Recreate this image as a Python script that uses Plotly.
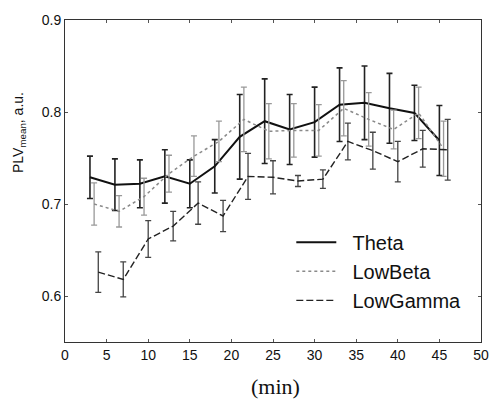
import plotly.graph_objects as go

# Data
theta_x = [3, 6, 9, 12, 15, 18, 21, 24, 27, 30, 33, 36, 39, 42, 45]
theta_y = [0.729, 0.721, 0.722, 0.730, 0.722, 0.741, 0.773, 0.790, 0.781, 0.789, 0.808, 0.810, 0.804, 0.799, 0.769]
theta_e = [0.023, 0.028, 0.026, 0.029, 0.026, 0.029, 0.046, 0.046, 0.038, 0.038, 0.040, 0.040, 0.038, 0.030, 0.038]

lowbeta_x = [3.5, 6.5, 9.5, 12.5, 15.5, 18.5, 21.5, 24.5, 27.5, 30.5, 33.5, 36.5, 39.5, 42.5, 45.5]
lowbeta_y = [0.700, 0.692, 0.708, 0.733, 0.752, 0.768, 0.792, 0.779, 0.780, 0.780, 0.804, 0.792, 0.781, 0.799, 0.760]
lowbeta_e = [0.023, 0.017, 0.020, 0.020, 0.022, 0.022, 0.035, 0.030, 0.029, 0.028, 0.030, 0.029, 0.021, 0.028, 0.030]

lowgamma_x = [4, 7, 10, 13, 16, 19, 22, 25, 28, 31, 34, 37, 40, 43, 46]
lowgamma_y = [0.626, 0.618, 0.662, 0.676, 0.701, 0.687, 0.730, 0.729, 0.725, 0.727, 0.768, 0.758, 0.746, 0.760, 0.759]
lowgamma_e = [0.022, 0.019, 0.020, 0.016, 0.023, 0.017, 0.025, 0.018, 0.006, 0.010, 0.020, 0.020, 0.022, 0.020, 0.033]

series_names = ["Theta", "LowBeta", "LowGamma"]
x_ticks = [0, 5, 10, 15, 20, 25, 30, 35, 40, 45, 50]
y_ticks = [0.6, 0.7, 0.8, 0.9]

pad = "\u00a0\u00a0"

fig = go.Figure()
fig.add_trace(go.Scatter(
    x=theta_x, y=theta_y, mode="lines", name=pad + series_names[0],
    line=dict(color="#111", width=2),
    error_y=dict(type="data", array=theta_e, color="#222", thickness=1.6, width=3),
))
fig.add_trace(go.Scatter(
    x=lowbeta_x, y=lowbeta_y, mode="lines", name=pad + series_names[1],
    line=dict(color="#8a8a8a", width=1.5, dash="dot"),
    error_y=dict(type="data", array=lowbeta_e, color="#999", thickness=1.3, width=3),
))
fig.add_trace(go.Scatter(
    x=lowgamma_x, y=lowgamma_y, mode="lines", name=pad + series_names[2],
    line=dict(color="#222", width=1.4, dash="7px,3px"),
    error_y=dict(type="data", array=lowgamma_e, color="#444", thickness=1.3, width=3),
))

axis_common = dict(
    showgrid=False, zeroline=False, showline=True, linecolor="#333", linewidth=1,
    mirror="ticks", ticks="inside", ticklen=3, tickcolor="#555",
    tickfont=dict(family="Liberation Sans, Arial, sans-serif", size=14, color="#111"),
)
fig.update_xaxes(range=[0, 50], tickvals=x_ticks, **axis_common)
fig.update_yaxes(range=[0.55, 0.9], tickvals=y_ticks, tickformat=".1f", **axis_common)

fig.update_layout(
    width=501, height=400,
    margin=dict(l=65, r=17, t=12, b=58),
    paper_bgcolor="white", plot_bgcolor="white",
    showlegend=True,
    legend=dict(
        x=0.544, y=0.37, xanchor="left", yanchor="top",
        bgcolor="rgba(0,0,0,0)", borderwidth=0,
        font=dict(family="Liberation Sans, Arial, sans-serif", size=20, color="#111"),
        itemwidth=40, tracegroupgap=0,
    ),
    annotations=[
        dict(text="(min)", xref="paper", yref="paper", x=0.505, y=-0.137,
             xanchor="center", yanchor="middle", showarrow=False,
             font=dict(family="Liberation Serif, Times New Roman, serif", size=22, color="#111")),
        dict(text="PLV<sub>mean</sub>, a.u.", xref="paper", yref="paper", x=-0.112, y=0.65,
             xanchor="center", yanchor="middle", textangle=-90, showarrow=False,
             font=dict(family="Liberation Sans, Arial, sans-serif", size=14, color="#111")),
    ],
)

fig.write_html("out.html")
